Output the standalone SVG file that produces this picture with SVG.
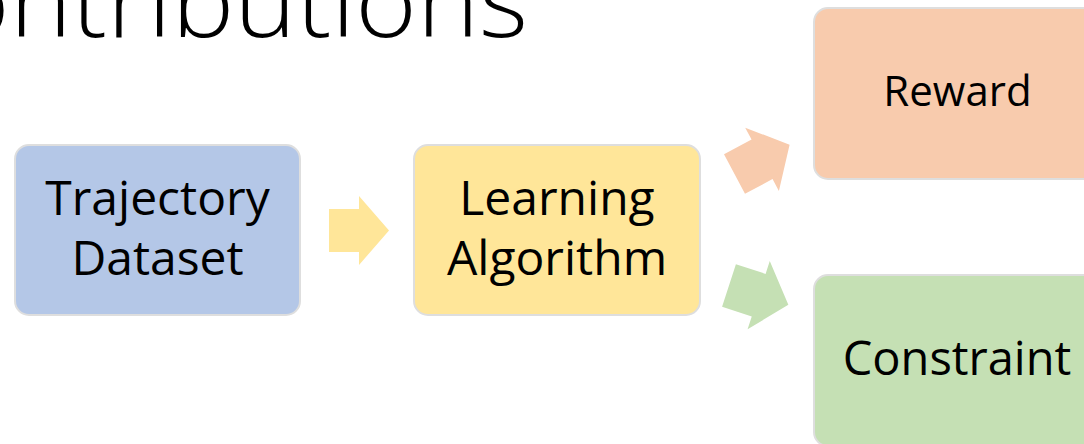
<svg xmlns="http://www.w3.org/2000/svg" width="1084" height="444" viewBox="0 0 1084 444">
  <style>
    .box { stroke: #dedede; stroke-width: 2; }
    .lbl { font-family: "Open Sans", "Liberation Sans", sans-serif; fill: #000; text-anchor: middle; }
    .title { font-family: "Open Sans", "Liberation Sans", sans-serif; font-weight: 300; fill: #000; }
  </style>
  <defs>
    <!-- block arrow, tail centred at the origin, pointing along +x -->
    <path id="blockArrow" d="M0,-21.5 H30 V-34.5 L60,0 L30,34.5 V21.5 H0 Z"/>
  </defs>

  <rect width="1084" height="444" fill="#ffffff"/>

  <text class="title" x="-52" y="37" font-size="99" textLength="580" lengthAdjust="spacingAndGlyphs">ontributions</text>

  <g id="node-trajectory">
    <rect class="box" x="15" y="145" width="285" height="170" rx="14" fill="#b4c7e7"/>
    <text class="lbl" x="157.5" y="215" font-size="48">Trajectory</text>
    <text class="lbl" x="157.5" y="275" font-size="48">Dataset</text>
  </g>

  <g id="node-learning">
    <rect class="box" x="414" y="145" width="286" height="170" rx="14" fill="#ffe699"/>
    <text class="lbl" x="557" y="215" font-size="48">Learning</text>
    <text class="lbl" x="557" y="275" font-size="48">Algorithm</text>
  </g>

  <g id="node-reward">
    <rect class="box" x="814" y="8" width="287" height="171" rx="14" fill="#f8cbad"/>
    <text class="lbl" x="957.5" y="106" font-size="42">Reward</text>
  </g>

  <g id="node-constraint">
    <rect class="box" x="814" y="275" width="287" height="171" rx="14" fill="#c5e0b4"/>
    <text class="lbl" x="957" y="375" font-size="47">Constraint</text>
  </g>

  <g id="connectors">
    <use href="#blockArrow" fill="#ffe699" transform="translate(329,230.5)"/>
    <use href="#blockArrow" fill="#f8cbad" transform="translate(734.5,174) rotate(-28) scale(1.04)"/>
    <use href="#blockArrow" fill="#c5e0b4" transform="translate(729,285.5) rotate(18) scale(1.04)"/>
  </g>
</svg>
